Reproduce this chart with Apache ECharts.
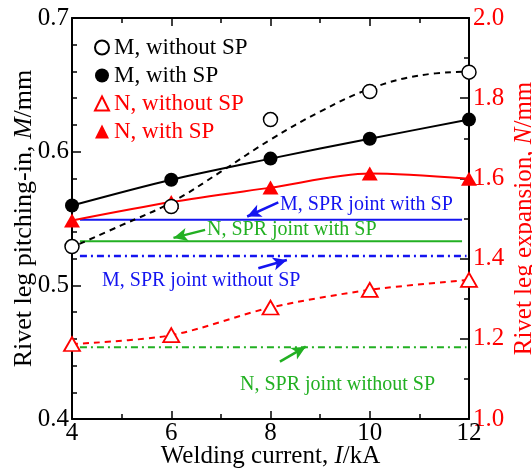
<!DOCTYPE html>
<html>
<head>
<meta charset="utf-8">
<script src="https://cdn.jsdelivr.net/npm/echarts@6/dist/echarts.min.js"></script>
<style>
  html, body { margin: 0; padding: 0; background: #fff; }
  #main { width: 532px; height: 469px; }
</style>
</head>
<body>
<div id="main"></div>
<script>
// 焊接电流 (kA)
var currents = [4, 6, 8, 10, 12];
// M 铆钉腿内扣量 (mm), N 铆钉腿张开量 (mm)
var mWithout = [0.529, 0.559, 0.624, 0.645, 0.6595];
var mWith = [0.5597, 0.579, 0.5948, 0.6097, 0.624];
var nWithout = [1.187, 1.209, 1.278, 1.322, 1.347];
var nWith = [1.495, 1.541, 1.577, 1.612, 1.599];
// M, without SP 的拟合曲线
var fitCurrents = [4.15, 5, 6, 7, 8, 9, 10, 11, 12];
var mWithoutFit = [0.531, 0.545, 0.562, 0.585, 0.609, 0.630, 0.647, 0.657, 0.660];
// SPR 接头参考水平线
var mSprWith = 0.549, mSprWithout = 0.522;
var nSprWith = 1.443, nSprWithout = 1.179;
var refSpanSolid = [4.16, 11.86];
var refSpanDash = [4.16, 11.95];
var xTicks = [4, 6, 8, 10, 12];

var FONT = "'Liberation Serif', 'Times New Roman', serif";
var BLUE = '#1414f0';
var GREEN = '#22b022';
var RED = '#ff0000';

function pairs(xs, ys) {
    return xs.map(function (x, i) { return [x, ys[i]]; });
}
function flat(span, v) {
    return [[span[0], v], [span[1], v]];
}

var chart = echarts.init(document.getElementById('main'));

var axisLine = { show: true, onZero: false, lineStyle: { color: '#000', width: 2 } };

var option = {
    animation: false,
    grid: { left: 72, right: 63, top: 18, bottom: 50, outerBoundsMode: 'none', containLabel: false },
    legend: {
        orient: 'vertical',
        left: 89,
        top: 31,
        itemWidth: 14,
        itemHeight: 14,
        itemGap: 5,
        textStyle: { fontFamily: FONT, fontSize: 23, lineHeight: 23, color: '#000' },
        data: [
            { name: 'M, without SP', icon: 'circle' },
            { name: 'M, with SP', icon: 'circle' },
            { name: 'N, without SP', icon: 'triangle', textStyle: { color: RED } },
            { name: 'N, with SP', icon: 'triangle', textStyle: { color: RED } }
        ]
    },
    xAxis: [{
        type: 'value', min: 4, max: 12, interval: 2, position: 'bottom',
        axisLine: axisLine,
        axisTick: { inside: true, length: 8, lineStyle: { color: '#000', width: 1.5 } },
        minorTick: { show: true, splitNumber: 2, length: 5, lineStyle: { color: '#000', width: 1.5 } },
        splitLine: { show: false },
        axisLabel: { fontFamily: FONT, fontSize: 25, color: '#000', margin: 2,
            formatter: function (v) { return xTicks.indexOf(v) >= 0 ? String(v) : ''; } },
        name: 'Welding current, {i|I}/kA',
        nameLocation: 'middle', nameGap: 25, nameMoveOverlap: false,
        nameTextStyle: { fontFamily: FONT, fontSize: 25, color: '#000',
            rich: { i: { fontFamily: FONT, fontSize: 25, fontStyle: 'italic', color: '#000' } } }
    }, {
        type: 'value', min: 4, max: 12, interval: 2, position: 'top',
        axisLine: axisLine,
        axisTick: { inside: true, length: 8, lineStyle: { color: '#000', width: 1.5 } },
        minorTick: { show: true, splitNumber: 2, length: 5, lineStyle: { color: '#000', width: 1.5 } },
        splitLine: { show: false },
        axisLabel: { show: false }
    }],
    yAxis: [{
        type: 'value', min: 0.4, max: 0.7, interval: 0.1, position: 'left',
        axisLine: axisLine,
        axisTick: { inside: true, length: 9, lineStyle: { color: '#000', width: 1.5 } },
        minorTick: { show: true, splitNumber: 5, length: 5, lineStyle: { color: '#000', width: 1.5 } },
        splitLine: { show: false },
        axisLabel: { fontFamily: FONT, fontSize: 25, color: '#000', margin: 3,
            formatter: function (v) { return v.toFixed(1); } },
        name: 'Rivet leg pitching-in, {i|M}/mm',
        nameLocation: 'middle', nameRotate: 90, nameGap: 35, nameMoveOverlap: false,
        nameTextStyle: { fontFamily: FONT, fontSize: 26, color: '#000',
            rich: { i: { fontFamily: FONT, fontSize: 26, fontStyle: 'italic', color: '#000' } } }
    }, {
        type: 'value', min: 1.0, max: 2.0, interval: 0.2, position: 'right',
        axisLine: axisLine,
        axisTick: { inside: true, length: 9, lineStyle: { color: '#000', width: 1.5 } },
        minorTick: { show: true, splitNumber: 2, length: 5, lineStyle: { color: '#000', width: 1.5 } },
        splitLine: { show: false },
        axisLabel: { fontFamily: FONT, fontSize: 25, color: RED, margin: 4,
            formatter: function (v) { return v.toFixed(1); } },
        name: 'Rivet leg expansion, {i|N}/mm',
        nameLocation: 'middle', nameRotate: 90, nameGap: 43, nameMoveOverlap: false,
        nameTextStyle: { fontFamily: FONT, fontSize: 25, color: RED,
            rich: { i: { fontFamily: FONT, fontSize: 25, fontStyle: 'italic', color: RED } } }
    }],
    series: [
        // 参考水平线
        { type: 'line', yAxisIndex: 0, data: flat(refSpanSolid, mSprWith), showSymbol: false,
          lineStyle: { color: BLUE, width: 2 }, z: 1 },
        { type: 'line', yAxisIndex: 1, data: flat(refSpanSolid, nSprWith), showSymbol: false,
          lineStyle: { color: GREEN, width: 2 }, z: 1 },
        { type: 'line', yAxisIndex: 0, data: flat(refSpanDash, mSprWithout), showSymbol: false,
          lineStyle: { color: BLUE, width: 2.5, type: [7, 4, 2, 4] }, z: 1 },
        { type: 'line', yAxisIndex: 1, data: flat(refSpanDash, nSprWithout), showSymbol: false,
          lineStyle: { color: GREEN, width: 2, type: [7, 4, 2, 4] }, z: 1 },
        // 曲线
        { type: 'line', yAxisIndex: 0, data: pairs(fitCurrents, mWithoutFit), smooth: 0.4, showSymbol: false,
          lineStyle: { color: '#000', width: 2, type: [6, 5] }, z: 2 },
        { name: 'M, with SP', type: 'line', yAxisIndex: 0, data: pairs(currents, mWith), smooth: 0.3,
          symbol: 'circle', symbolSize: 14, itemStyle: { color: '#000' },
          lineStyle: { color: '#000', width: 2 }, z: 3 },
        { name: 'N, without SP', type: 'line', yAxisIndex: 1, data: pairs(currents, nWithout), smooth: 0.3,
          symbol: 'triangle', symbolSize: [16, 14],
          itemStyle: { color: '#fff', borderColor: RED, borderWidth: 1.8 },
          lineStyle: { color: RED, width: 2, type: [6, 5] }, z: 3 },
        { name: 'N, with SP', type: 'line', yAxisIndex: 1, data: pairs(currents, nWith), smooth: 0.3,
          symbol: 'triangle', symbolSize: [16, 14], itemStyle: { color: RED },
          lineStyle: { color: RED, width: 2 }, z: 3 },
        { name: 'M, without SP', type: 'scatter', yAxisIndex: 0, data: pairs(currents, mWithout),
          symbol: 'circle', symbolSize: 14,
          itemStyle: { color: '#fff', borderColor: '#000', borderWidth: 1.5, opacity: 1 }, z: 4 },
        // 箭头标注
        { type: 'line', yAxisIndex: 0, data: [], silent: true,
          markLine: {
              silent: true, symbol: ['none', 'arrow'], symbolSize: [10, 14], label: { show: false },
              data: [
                  [{ coord: [8.157, 0.562], lineStyle: { color: BLUE } }, { coord: [7.53, 0.5515] }],
                  [{ coord: [6.682, 0.5415], lineStyle: { color: GREEN } }, { coord: [6.045, 0.5355] }],
                  [{ coord: [7.755, 0.5128], lineStyle: { color: BLUE } }, { coord: [8.33, 0.519] }],
                  [{ coord: [8.19, 0.4429], lineStyle: { color: GREEN } }, { coord: [8.71, 0.4541] }]
              ],
              lineStyle: { type: 'solid', width: 2.5 }
          } }
    ],
    graphic: [
        { type: 'text', left: 280, top: 195, style: { text: 'M, SPR joint with SP', fill: BLUE, font: '20px ' + FONT } },
        { type: 'text', left: 207, top: 220, style: { text: 'N, SPR joint with SP', fill: GREEN, font: '20px ' + FONT } },
        { type: 'text', left: 102, top: 271, style: { text: 'M, SPR joint without SP', fill: BLUE, font: '20px ' + FONT } },
        { type: 'text', left: 240, top: 375, style: { text: 'N, SPR joint without SP', fill: GREEN, font: '20px ' + FONT } }
    ]
};
chart.setOption(option);
</script>
</body>
</html>
